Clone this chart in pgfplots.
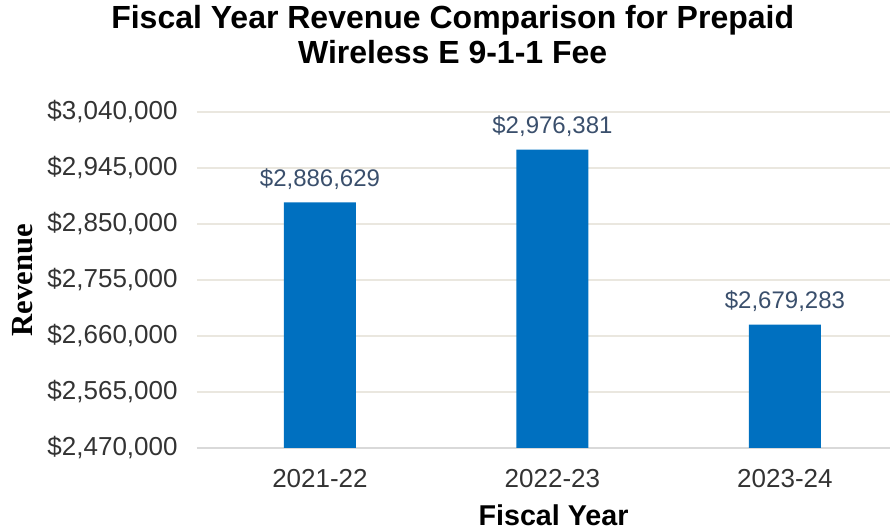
\documentclass[border=0pt]{standalone}
\usepackage{fontspec}
\setmainfont{Liberation Sans}
\newfontfamily\serifbold{Liberation Serif}
\usepackage{pgfplots}
\pgfplotsset{compat=1.18}
\definecolor{barblue}{HTML}{0070C0}
\definecolor{lblblue}{HTML}{3A4F6C}
\definecolor{gridc}{HTML}{EAE7DF}
\definecolor{axisc}{HTML}{D9D9D9}
\definecolor{tickc}{HTML}{333333}
\begin{document}
\begin{tikzpicture}
\begin{axis}[
  name=ax,
  scale only axis,
  width=519.75pt, height=252pt,
  ybar, bar width=54pt,
  xmin=-0.529, xmax=2.452,
  ymin=2470000, ymax=3040000,
  scaled y ticks=false,
  xtick=data,
  xticklabels={2021-22,2022-23,2023-24},
  ytick={2470000,2565000,2660000,2755000,2850000,2945000,3040000},
  yticklabels={{\$2,470,000},{\$2,565,000},{\$2,660,000},{\$2,755,000},{\$2,850,000},{\$2,945,000},{\$3,040,000}},
  ymajorgrids, grid style={gridc, line width=1.2pt},
  axis x line*=bottom, axis y line*=left,
  x axis line style={axisc, line width=1.5pt, -},
  y axis line style={draw=none},
  major tick length=0pt,
  xticklabel style={font=\fontsize{19.5}{22}\selectfont, text=tickc, anchor=base, yshift=-30pt},
  yticklabel style={font=\fontsize{19.5}{22}\selectfont, text=tickc, xshift=-11pt},
  ylabel={\serifbold\bfseries Revenue},
  ylabel style={font=\fontsize{23}{26}\selectfont, at={(axis description cs:0,0.5)}, anchor=center, yshift=130.5pt},
  xlabel={\bfseries Fiscal Year},
  xlabel style={font=\fontsize{21.5}{24}\selectfont, at={(axis description cs:0.5145,0)}, anchor=base, yshift=-58pt},
  title={\bfseries Fiscal Year Revenue Comparison for Prepaid\\\bfseries Wireless E 9-1-1 Fee},
  title style={font=\fontsize{24}{26.25}\selectfont, align=center, at={(axis description cs:0.369,1)}, anchor=north, yshift=77.6pt},
  nodes near coords,
  point meta=explicit symbolic,
  every node near coord/.append style={font=\fontsize{18}{21}\selectfont, text=lblblue, anchor=base, yshift=12pt},
  clip=false,
]
\addplot[fill=barblue, draw=none] coordinates {
  (0,2886629) [\$2,886,629]
  (1,2976381) [\$2,976,381]
  (2,2679283) [\$2,679,283]
};
\end{axis}
\pgfresetboundingbox
\path ([xshift=-147.75pt,yshift=-62.25pt]ax.south west) rectangle ([yshift=84pt]ax.north east);
\end{tikzpicture}
\end{document}
